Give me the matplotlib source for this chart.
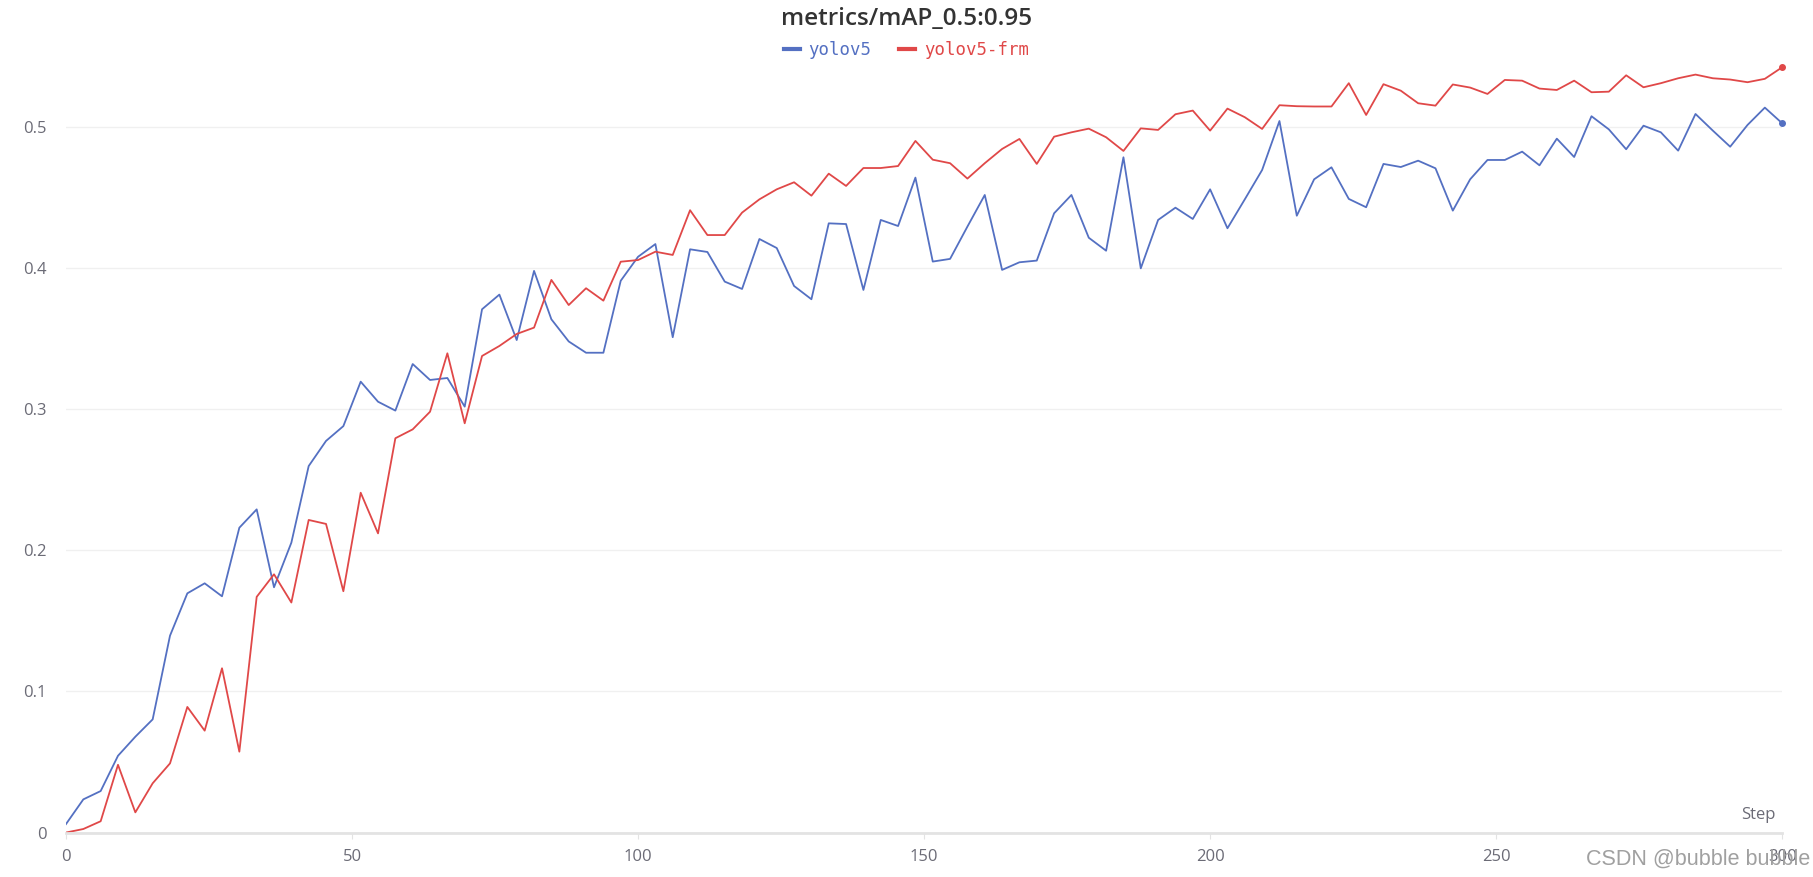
import numpy as np
import matplotlib.pyplot as plt

# metrics/mAP_0.5:0.95 per logged point (100 points across 300 steps)
yolov5 = [0.006, 0.0235, 0.0294, 0.0544, 0.0679, 0.0802, 0.1395, 0.1695, 0.1766, 0.1674,
          0.216, 0.229, 0.1738, 0.2054, 0.2597, 0.2775, 0.288, 0.3195, 0.3053, 0.299,
          0.332, 0.3207, 0.3221, 0.3018, 0.3708, 0.3812, 0.349, 0.398, 0.3637, 0.348,
          0.340, 0.340, 0.391, 0.408, 0.417, 0.351, 0.4133, 0.4114, 0.3904, 0.3852,
          0.4206, 0.4142, 0.3873, 0.3779, 0.4317, 0.4312, 0.3845, 0.4341, 0.4298, 0.4641,
          0.4046, 0.4065, 0.4294, 0.4518, 0.3987, 0.4041, 0.4053, 0.4388, 0.4518, 0.4215,
          0.4123, 0.4785, 0.3998, 0.4341, 0.4428, 0.4348, 0.4558, 0.4282, 0.4487, 0.4695,
          0.5042, 0.4371, 0.4629, 0.4714, 0.449, 0.4431, 0.4738, 0.4716, 0.4761, 0.4707,
          0.4407, 0.4629, 0.4766, 0.4766, 0.4825, 0.4728, 0.4917, 0.4787, 0.5076, 0.4983,
          0.4842, 0.5009, 0.4962, 0.4832, 0.5092, 0.4974, 0.486, 0.5014, 0.5137, 0.5026]

yolov5_frm = [0.0, 0.0025, 0.008, 0.048, 0.0143, 0.0349, 0.049, 0.089, 0.0722, 0.1164,
              0.0573, 0.167, 0.183, 0.163, 0.2215, 0.2187, 0.171, 0.2408, 0.212, 0.2794,
              0.2857, 0.2982, 0.3396, 0.290, 0.3377, 0.3448, 0.3533, 0.3578, 0.3916, 0.3738,
              0.3857, 0.3769, 0.4045, 0.4057, 0.4116, 0.4093, 0.441, 0.4234, 0.4234, 0.4393,
              0.4487, 0.4558, 0.4608, 0.4513, 0.4669, 0.4582, 0.4709, 0.4709, 0.4723, 0.4901,
              0.4768, 0.4743, 0.4634, 0.4743, 0.4844, 0.4915, 0.4738, 0.4931, 0.4962, 0.4988,
              0.4927, 0.483, 0.499, 0.4979, 0.509, 0.5116, 0.4974, 0.513, 0.5069, 0.4986,
              0.5154, 0.5147, 0.5145, 0.5145, 0.531, 0.5085, 0.5303, 0.5257, 0.5168, 0.5151,
              0.5301, 0.5279, 0.5234, 0.5333, 0.5328, 0.5272, 0.5262, 0.5328, 0.5246, 0.525,
              0.5366, 0.5281, 0.531, 0.5345, 0.5371, 0.5345, 0.5336, 0.5317, 0.5341, 0.5423]

steps = np.linspace(0, 300, len(yolov5))

x_ticks = [0, 50, 100, 150, 200, 250, 300]
y_ticks = [0, 0.1, 0.2, 0.3, 0.4, 0.5]
y_tick_labels = ['0', '0.1', '0.2', '0.3', '0.4', '0.5']

blue = '#5470c2'
red = '#e04848'
tick_col = '#6b6b76'

fig = plt.figure(figsize=(18.13, 8.77), dpi=100)
ax = fig.add_axes([0.0364, 0.0507, 0.9466, 0.885])

ax.plot(steps, yolov5, color=blue, lw=1.3, label='yolov5')
ax.plot(steps, yolov5_frm, color=red, lw=1.3, label='yolov5-frm')
ax.plot(steps[-1], yolov5[-1], 'o', color=blue, ms=4, clip_on=False)
ax.plot(steps[-1], yolov5_frm[-1], 'o', color=red, ms=4, clip_on=False)

ax.set_xlim(0, 300)
ax.set_ylim(0, 0.55)
ax.set_xticks(x_ticks)
ax.set_yticks(y_ticks)
ax.set_yticklabels(y_tick_labels)
ax.grid(axis='y', color='#f0f0f0', lw=1)
ax.set_axisbelow(True)

for s in ['top', 'right', 'left']:
    ax.spines[s].set_visible(False)
ax.spines['bottom'].set_color('#e3e3e3')
ax.spines['bottom'].set_linewidth(2)

ax.tick_params(axis='y', length=0, pad=14, labelsize=12, labelcolor=tick_col)
ax.tick_params(axis='x', length=4, width=0.8, color='#e3e3e3', pad=8,
               labelsize=12, labelcolor=tick_col)
for lab in ax.get_xticklabels() + ax.get_yticklabels():
    lab.set_fontfamily('Open Sans')

ax.text(1.0 - 0.004, 0.012, 'Step', transform=ax.transAxes, ha='right', va='bottom',
        fontsize=12, color=tick_col, family='Open Sans')

fig.text(0.5, 1 - 19 / 877, 'metrics/mAP_0.5:0.95', ha='center', va='center',
         fontsize=17.5, fontweight='semibold', color='#333333', family='Open Sans')

leg = fig.legend(loc='center', bbox_to_anchor=(0.5, 1 - 50 / 877), ncol=2, frameon=False,
                 handlelength=0.9, handletextpad=0.5, columnspacing=1.6,
                 prop={'family': 'DejaVu Sans Mono', 'size': 12.5}, labelcolor='linecolor')
for h in leg.get_lines():
    h.set_linewidth(3)

# watermark overlaps the last tick label, as in the source image
fig.text(1 - 3 / 1813, 1 - 859 / 877, 'CSDN @bubble bubble', ha='right', va='center',
         fontsize=15.5, color='#a0a0a0', family='Liberation Sans')

fig.savefig('out.png', dpi=100, facecolor='white')
